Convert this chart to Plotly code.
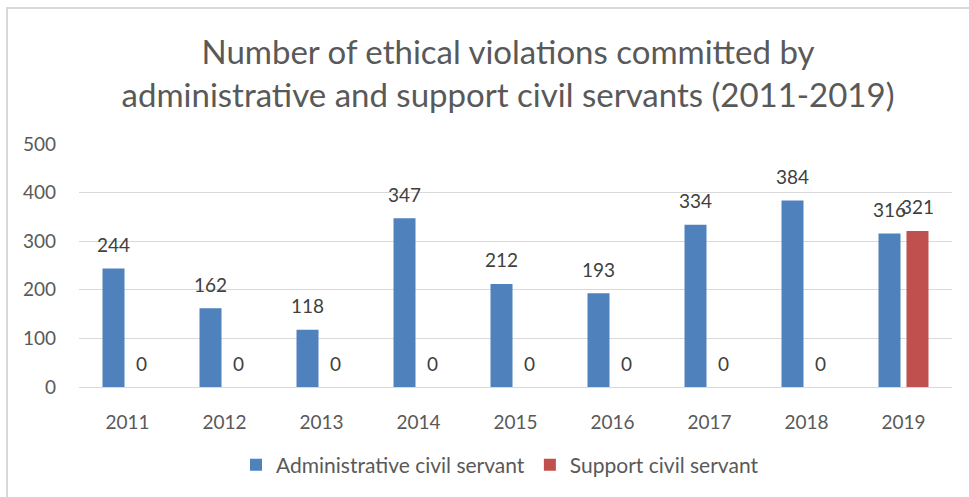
import plotly.graph_objects as go

years = ["2011", "2012", "2013", "2014", "2015", "2016", "2017", "2018", "2019"]
administrative = [244, 162, 118, 347, 212, 193, 334, 384, 316]
support = [0, 0, 0, 0, 0, 0, 0, 0, 321]
series_names = ["Administrative civil servant", "Support civil servant"]
y_ticks = [0, 100, 200, 300, 400, 500]

BLUE = "#4F81BD"
RED = "#C0504D"
TXT = "#595959"
FONT = "Lato"

W, H = 969, 497
ML, MR, MT, MB = 79, 17, 144, 110
PW, PH = W - ML - MR, H - MT - MB

fig = go.Figure()
fig.add_trace(go.Bar(x=years, y=administrative, name=series_names[0],
                     marker=dict(color=BLUE, line=dict(width=0))))
fig.add_trace(go.Bar(x=years, y=support, name=series_names[1],
                     marker=dict(color=RED, line=dict(width=0))))

annotations = []
for vals, dx in ((administrative, -14), (support, 14)):
    for i, v in enumerate(vals):
        annotations.append(dict(x=i, y=v, xref="x", yref="y", text=str(v),
                                showarrow=False, xshift=dx, yshift=24,
                                yanchor="middle", xanchor="center",
                                font=dict(family=FONT, size=19, color="#404040")))

# chart border (only top and left edges visible in the frame)
shapes = [dict(type="rect", xref="paper", yref="paper",
               x0=(7 - ML) / PW, x1=(1100 - ML) / PW,
               y0=-(600 - (H - MB)) / PH, y1=1 + (MT - 8) / PH,
               line=dict(color="#D9D9D9", width=2), fillcolor="rgba(0,0,0,0)",
               layer="below")]

fig.update_layout(
    width=W, height=H,
    margin=dict(l=ML, r=MR, t=MT, b=MB),
    paper_bgcolor="white", plot_bgcolor="white",
    title=dict(text="Number of ethical violations committed by<br>administrative and support civil servants (2011-2019)",
               x=508 / W, xanchor="center", y=1 - 64 / H, yanchor="top",
               font=dict(family=FONT, size=33, color=TXT)),
    barmode="group", bargap=0.423, bargroupgap=0.214,
    xaxis=dict(type="category", showgrid=False, showline=True, linecolor="#D9D9D9",
               ticks="", ticklabelstandoff=18,
               tickfont=dict(family=FONT, size=19, color=TXT)),
    yaxis=dict(range=[0, 500], tickvals=y_ticks, showgrid=True, gridcolor="#D9D9D9",
               gridwidth=1, zeroline=False, showline=False, ticks="",
               ticklabelstandoff=22,
               tickfont=dict(family=FONT, size=19, color=TXT)),
    legend=dict(orientation="h", x=(500 - ML) / PW, xanchor="center", y=-(465 - (H - MB)) / PH,
                yanchor="middle", font=dict(family=FONT, size=21, color=TXT)),
    annotations=annotations,
    shapes=shapes,
)

fig.write_html("out.html")
